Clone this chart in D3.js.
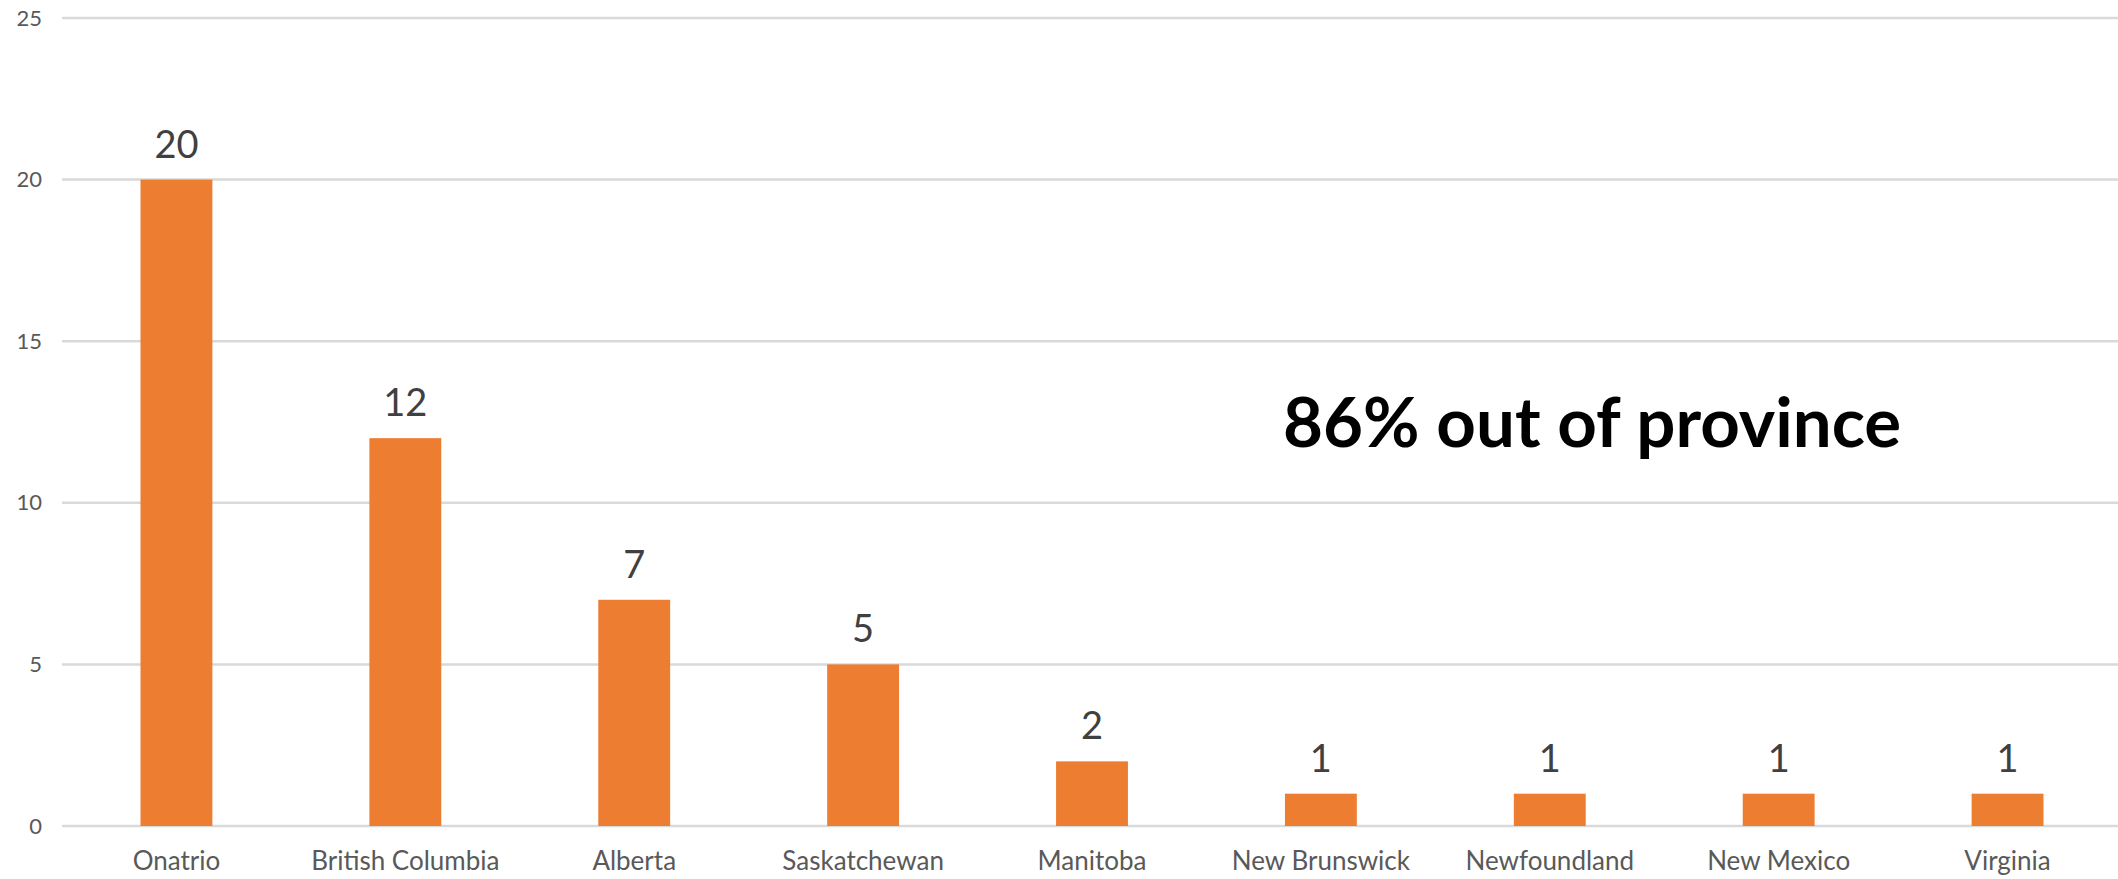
<!DOCTYPE html>
<html>
<head>
<meta charset="utf-8">
<script src="https://cdn.jsdelivr.net/npm/d3@7"></script>
<style>
  body { margin: 0; background: #fff; }
  svg { display: block; }
</style>
</head>
<body>
<div id="chart"></div>
<script>
// categories and counts
var places = ["Onatrio", "British Columbia", "Alberta", "Saskatchewan", "Manitoba",
  "New Brunswick", "Newfoundland", "New Mexico", "Virginia"];
var counts = [20, 12, 7, 5, 2, 1, 1, 1, 1];
var yTicks = [0, 5, 10, 15, 20, 25];
var note = "86% out of province";

var width = 2118, height = 879;
// plot edges (note: "top" is taken by window.top)
var plotLeft = 62, plotRight = 2122, plotTop = 18, plotBottom = 826;

var svg = d3.select('#chart').append('svg')
  .attr('width', width)
  .attr('height', height);

var x = d3.scaleBand()
  .domain(places)
  .range([plotLeft, plotRight])
  .paddingInner(0.686)
  .paddingOuter(0.343);

var y = d3.scaleLinear()
  .domain([0, 25])
  .range([plotBottom, plotTop]);

// gridlines
svg.append('g')
  .selectAll('line')
  .data(yTicks)
  .enter().append('line')
  .attr('x1', plotLeft)
  .attr('x2', width)
  .attr('y1', d => y(d))
  .attr('y2', d => y(d))
  .attr('stroke', '#d9d9d9')
  .attr('stroke-width', 2.5);

// y axis labels
var yAxis = d3.axisLeft(y).tickValues(yTicks).tickSize(0).tickPadding(0);
svg.append('g')
  .attr('transform', 'translate(42,0)')
  .call(yAxis)
  .call(g => g.select('.domain').remove())
  .selectAll('text')
  .attr('font-family', 'Lato, sans-serif')
  .attr('font-size', 22)
  .attr('fill', '#595959');

// bars
svg.append('g')
  .selectAll('rect')
  .data(places)
  .enter().append('rect')
  .attr('x', d => x(d))
  .attr('width', x.bandwidth())
  .attr('y', (d, i) => y(counts[i]))
  .attr('height', (d, i) => y(0) - y(counts[i]))
  .attr('fill', '#ED7D31');

// value labels
svg.append('g')
  .selectAll('text')
  .data(places)
  .enter().append('text')
  .attr('x', d => x(d) + x.bandwidth() / 2)
  .attr('y', (d, i) => y(counts[i]) - 22)
  .attr('text-anchor', 'middle')
  .attr('font-family', 'Lato, sans-serif')
  .attr('font-size', 38)
  .attr('fill', '#404040')
  .text((d, i) => counts[i]);

// x axis labels
var xAxis = d3.axisBottom(x).tickSize(0).tickPadding(0);
svg.append('g')
  .attr('transform', 'translate(0,' + plotBottom + ')')
  .call(xAxis)
  .call(g => g.select('.domain').remove())
  .selectAll('text')
  .attr('dy', null)
  .attr('y', 44)
  .attr('font-family', 'Lato, sans-serif')
  .attr('font-size', 26)
  .attr('fill', '#595959');

// annotation
svg.append('text')
  .attr('x', 1283)
  .attr('y', 447)
  .attr('font-family', 'Lato, sans-serif')
  .attr('font-weight', 'bold')
  .attr('font-size', 69)
  .attr('fill', '#000')
  .text(note);
</script>
</body>
</html>
